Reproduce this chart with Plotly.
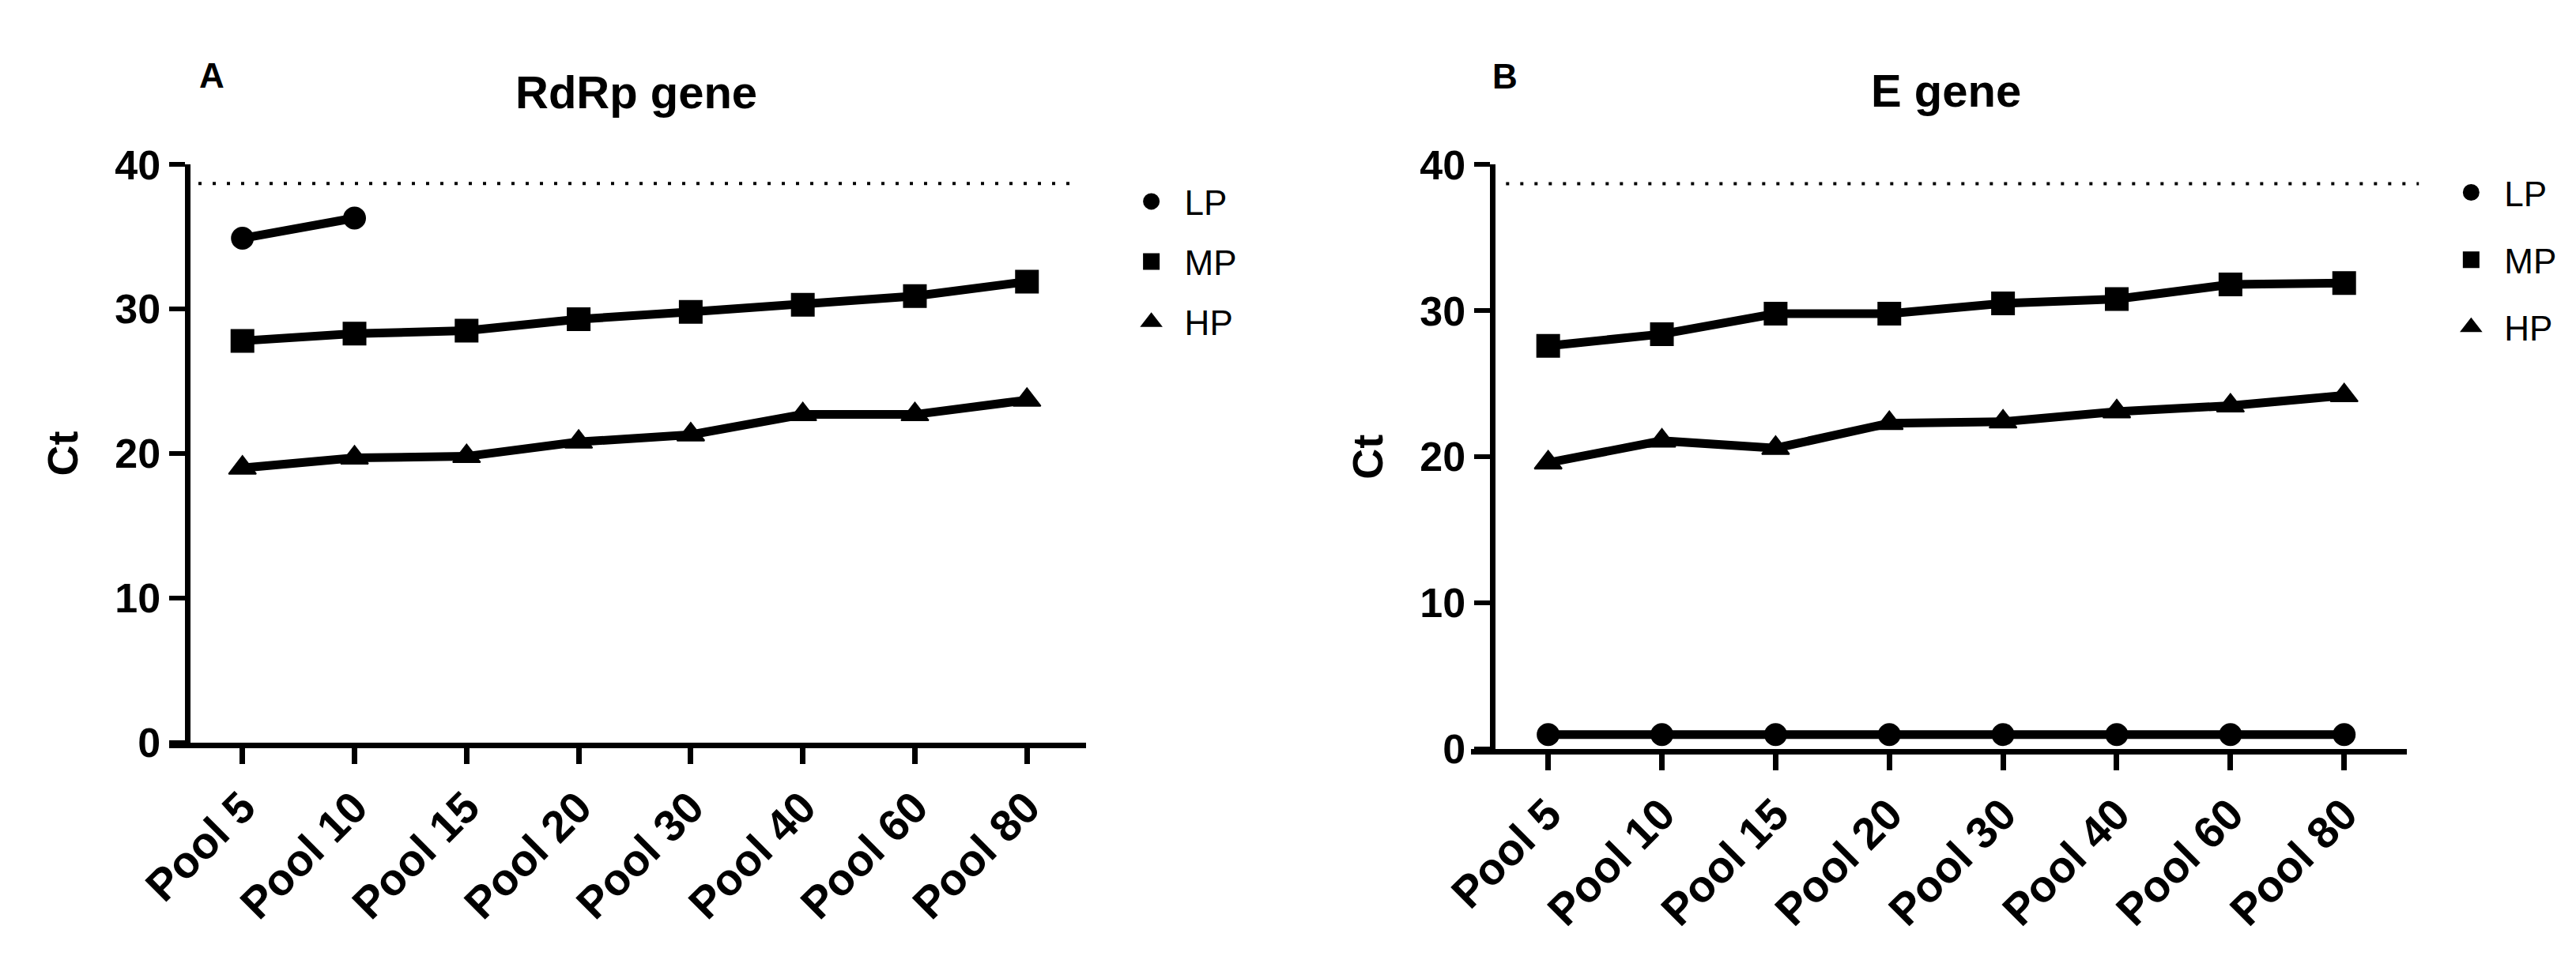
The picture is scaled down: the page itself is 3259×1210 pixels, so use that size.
import plotly.graph_objects as go

# ---------------- data ----------------
POOLS = ["Pool 5", "Pool 10", "Pool 15", "Pool 20", "Pool 30", "Pool 40", "Pool 60", "Pool 80"]
SERIES = ["LP", "MP", "HP"]

RDRP_LP = [34.9, 36.3, None, None, None, None, None, None]
RDRP_MP = [27.8, 28.3, 28.5, 29.3, 29.8, 30.3, 30.9, 31.9]
RDRP_HP = [19.0, 19.7, 19.8, 20.8, 21.3, 22.7, 22.7, 23.7]

E_LP = [1.0, 1.0, 1.0, 1.0, 1.0, 1.0, 1.0, 1.0]
E_MP = [27.6, 28.4, 29.8, 29.8, 30.5, 30.8, 31.8, 31.9]
E_HP = [19.6, 21.1, 20.6, 22.3, 22.4, 23.1, 23.5, 24.2]

CUTOFF = 38.7
Y_TICKS = [0, 10, 20, 30, 40]
PANEL_TITLES = ["RdRp gene", "E gene"]
PANEL_LETTERS = ["A", "B"]
Y_TITLE = "Ct"

# ---------------- styles ----------------
W, H = 3259, 1210
FONT = "Liberation Sans, Arial, sans-serif"
NARROW = "Liberation Sans Narrow, Arial Narrow, Liberation Sans, Arial, sans-serif"
SYMBOLS = {"LP": "circle", "MP": "square", "HP": "triangle-up"}
SIZES = {"LP": 27, "MP": 28, "HP": 30}

fig = go.Figure()

panels = [
    ("x", "y", "legend", "L1", [RDRP_LP, RDRP_MP, RDRP_HP]),
    ("x2", "y2", "legend2", "L2", [E_LP, E_MP, E_HP]),
]

for xa, ya, leg, gp, vals in panels:
    for name, v in zip(SERIES, vals):
        fig.add_trace(go.Scatter(
            x=POOLS, y=v, xaxis=xa, yaxis=ya, mode="lines+markers",
            line=dict(color="black", width=11),
            marker=dict(symbol=SYMBOLS[name], size=SIZES[name], color="black",
                        line=dict(color="black", width=2)),
            showlegend=False, name=name, connectgaps=False,
        ))
    for name in SERIES:
        fig.add_trace(go.Scatter(
            x=[None], y=[None], xaxis=xa, yaxis=ya, mode="markers",
            marker=dict(symbol=SYMBOLS[name], size=16, color="black",
                        line=dict(color="black", width=5)),
            name=name, legend=leg, legendgroup=gp + name, showlegend=True,
        ))

# cutoff dotted lines
for xa, ya, x0, x1 in [("x", "y", 0.032, 0.982), ("x2", "y2", 0.0375, 1.013)]:
    fig.add_shape(type="line", xref=f"{xa} domain", yref=ya, x0=x0, x1=x1,
                  y0=CUTOFF, y1=CUTOFF,
                  line=dict(color="black", width=4, dash="4px,14px"))

def yaxis_cfg(domain, position):
    return dict(domain=domain, range=[0, 40], anchor="free", position=position,
                tickvals=Y_TICKS, ticks="outside", ticklen=20, tickwidth=6,
                tickcolor="black", showline=True, linewidth=7, linecolor="black",
                showgrid=False, zeroline=False,
                tickfont=dict(family=NARROW, size=52, color="black", weight="bold"),
                title=dict(text=Y_TITLE, standoff=28,
                           font=dict(family=FONT, size=54, color="black", weight="bold")))

def xaxis_cfg(domain, rng, anchor):
    return dict(domain=domain, range=rng, anchor=anchor, type="category",
                categoryorder="array", categoryarray=POOLS,
                tickangle=-45, ticks="outside", ticklen=20, tickwidth=7,
                tickcolor="black", showline=True, linewidth=7, linecolor="black",
                showgrid=False, zeroline=False,
                tickfont=dict(family=FONT, size=56, color="black", weight="bold"))

legend_common = dict(font=dict(family=FONT, size=44, color="black"),
                     bgcolor="rgba(0,0,0,0)", traceorder="grouped",
                     itemwidth=74, xanchor="left", yanchor="top")

fig.update_layout(
    width=W, height=H, margin=dict(l=0, r=0, t=0, b=0),
    paper_bgcolor="white", plot_bgcolor="white",
    xaxis=xaxis_cfg([167 / W, 1342 / W], [-0.6546, 7.528], "y"),
    yaxis=yaxis_cfg([1 - 948 / H, 1 - 180 / H], 190 / W),
    xaxis2=xaxis_cfg([1835 / W, 3034 / W], [-0.6795, 7.55], "y2"),
    yaxis2=yaxis_cfg([1 - 957 / H, 1 - 180 / H], 1862 / W),
    legend=dict(x=1383 / W, y=1 - 192 / H, tracegroupgap=16, **legend_common),
    legend2=dict(x=3074 / W, y=1 - 180 / H, tracegroupgap=25, **legend_common),
)

# panel titles and letters
for txt, cx, cy in zip(PANEL_TITLES, [766, 2444], [84, 81]):
    fig.add_annotation(text=txt, xref="paper", yref="paper", x=cx / W, y=1 - cy / H,
                       showarrow=False, xanchor="center", yanchor="middle",
                       font=dict(family=FONT, size=58, color="black", weight="bold"))
for txt, cx, cy in zip(PANEL_LETTERS, [222, 1879], [61, 63]):
    fig.add_annotation(text=txt, xref="paper", yref="paper", x=cx / W, y=1 - cy / H,
                       showarrow=False, xanchor="center", yanchor="middle",
                       font=dict(family=FONT, size=44, color="black", weight="bold"))

fig.write_html("out.html")
